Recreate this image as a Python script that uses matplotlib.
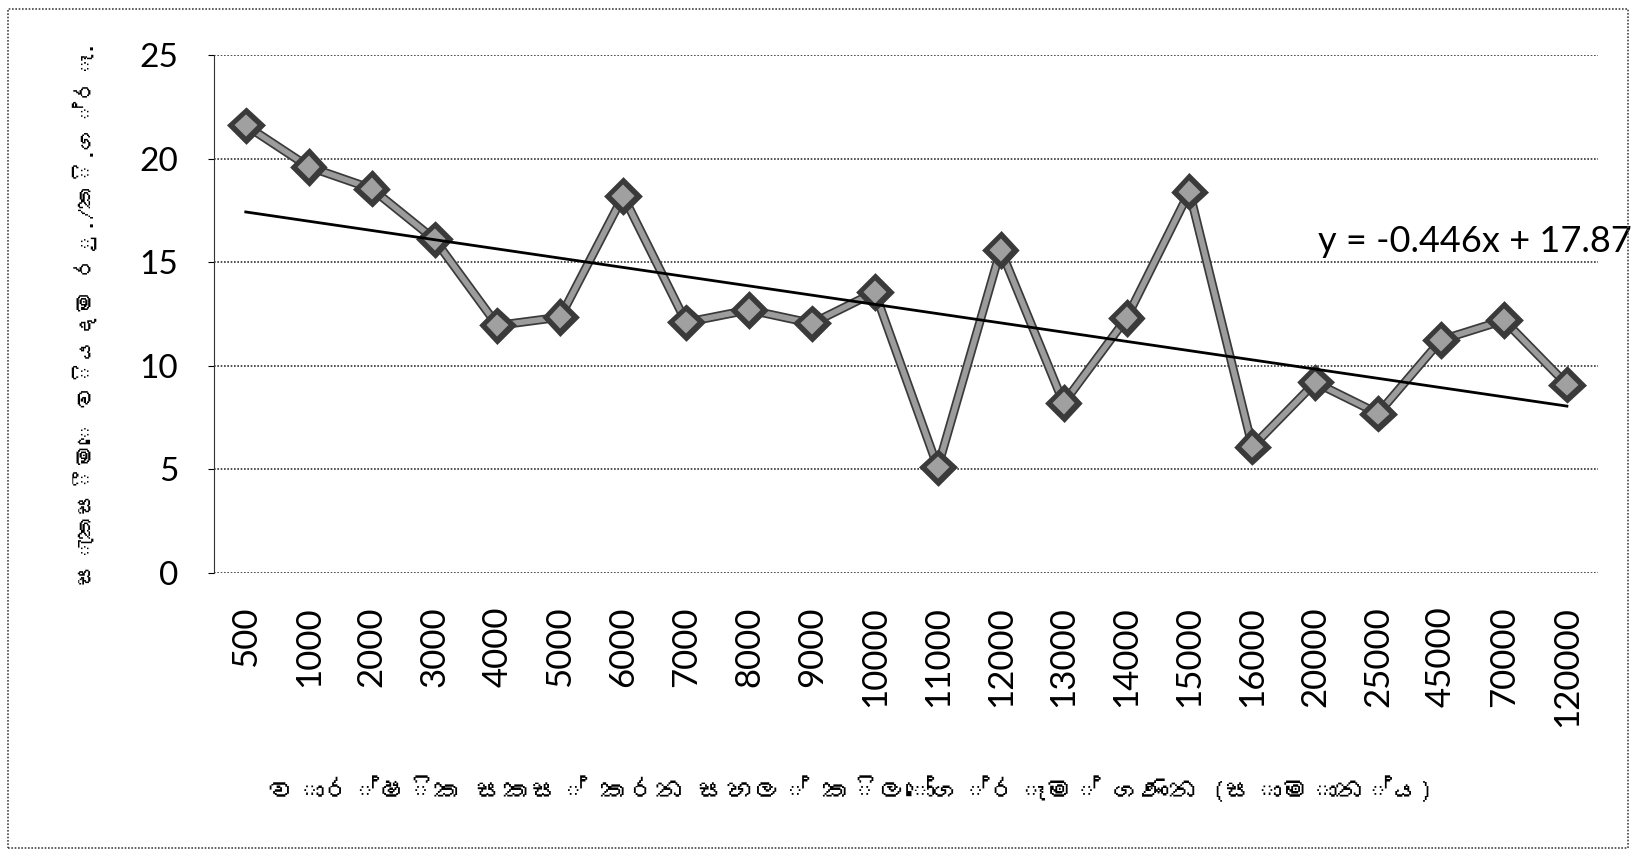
import matplotlib
matplotlib.use("Agg")
import matplotlib.pyplot as plt
import matplotlib.patheffects as pe
from matplotlib import font_manager
from matplotlib.ft2font import FT2Font
from matplotlib.patches import Rectangle
import numpy as np

# categories (annual kg of rice processed) and cost values (Rs./kg)
categories = ["500", "1000", "2000", "3000", "4000", "5000", "6000", "7000",
              "8000", "9000", "10000", "11000", "12000", "13000", "14000",
              "15000", "16000", "20000", "25000", "45000", "70000", "120000"]
cost = [21.6, 19.6, 18.55, 16.1, 11.95, 12.35, 18.2, 12.1, 12.7, 12.05, 13.55,
        5.1, 15.6, 8.2, 12.3, 18.4, 6.1, 9.2, 7.7, 11.25, 12.2, 9.1]
# trendline from the equation shown on the chart
slope = -0.446
intercept = 17.87

# matplotlib does no Sinhala shaping, so the zero-width joiners are left out
xlabel = "වාර්ෂික සකස් කරන සහල් කිලෝග්රෑම් ගණන (සාමාන්ය)"
ylabel = "සැකසීමෙ වියදම රු./කි.ග්රෑ."
equation = "y = -0.446x + 17.87"


def find_sinhala_font():
    # look for any installed font that has Sinhala glyphs
    for path in font_manager.findSystemFonts():
        try:
            f = FT2Font(path)
            if 0x0DC3 in f.get_charmap():
                return font_manager.FontProperties(fname=path).get_name(), path
        except Exception:
            pass
    return None, None


sin_name, sin_path = find_sinhala_font()
if sin_path:
    font_manager.fontManager.addfont(sin_path)
    sin_family = [sin_name, "DejaVu Sans"]
else:
    sin_family = ["DejaVu Sans"]

plt.rcParams["font.family"] = ["Lato", "DejaVu Sans"]

fig = plt.figure(figsize=(16.36, 8.58), dpi=100)
ax = fig.add_axes([0.131, 0.332, 0.846, 0.604])

x = np.arange(1, len(categories) + 1)
ax.plot(x, cost, color="#9c9c9c", linewidth=4, marker="D", markersize=13,
        markerfacecolor="#a0a0a0", markeredgecolor="#3a3a3a", markeredgewidth=1.5,
        path_effects=[pe.Stroke(linewidth=6.5, foreground="#3a3a3a"), pe.Normal()],
        zorder=3)

trend = slope * x + intercept
ax.plot(x, trend, color="black", linewidth=2, zorder=4)

ax.text(18.05, 15.2, equation, fontsize=26, ha="left", va="bottom", zorder=5)

ax.set_xlim(0.5, 22.5)
ax.set_ylim(0, 25)
ax.set_yticks([0, 5, 10, 15, 20, 25])
ax.set_xticks(x)
ax.set_xticklabels(categories, rotation=90, fontsize=25, va="top")
ax.tick_params(axis="y", labelsize=24, length=4, pad=22)
ax.tick_params(axis="x", length=0, pad=24)

ax.grid(axis="y", color="#333333", linestyle=(0, (1, 1)), linewidth=1.2)
for side in ["top", "right", "bottom"]:
    ax.spines[side].set_visible(False)
ax.spines["left"].set_linestyle((0, (1, 1)))
ax.spines["left"].set_color("#333333")
ax.set_axisbelow(True)

fig.text(0.52, 0.079, xlabel, family=sin_family, fontsize=20,
         ha="center", va="center")
fig.text(0.052, 0.635, ylabel, family=sin_family, fontsize=17,
         rotation=90, ha="center", va="center")

# dotted outer border of the chart area
fig.patches.append(Rectangle((0.005, 0.012), 0.99, 0.978, transform=fig.transFigure,
                             fill=False, edgecolor="#444444", linewidth=1.2,
                             linestyle=(0, (1, 1))))

fig.savefig("out.png", dpi=100)
